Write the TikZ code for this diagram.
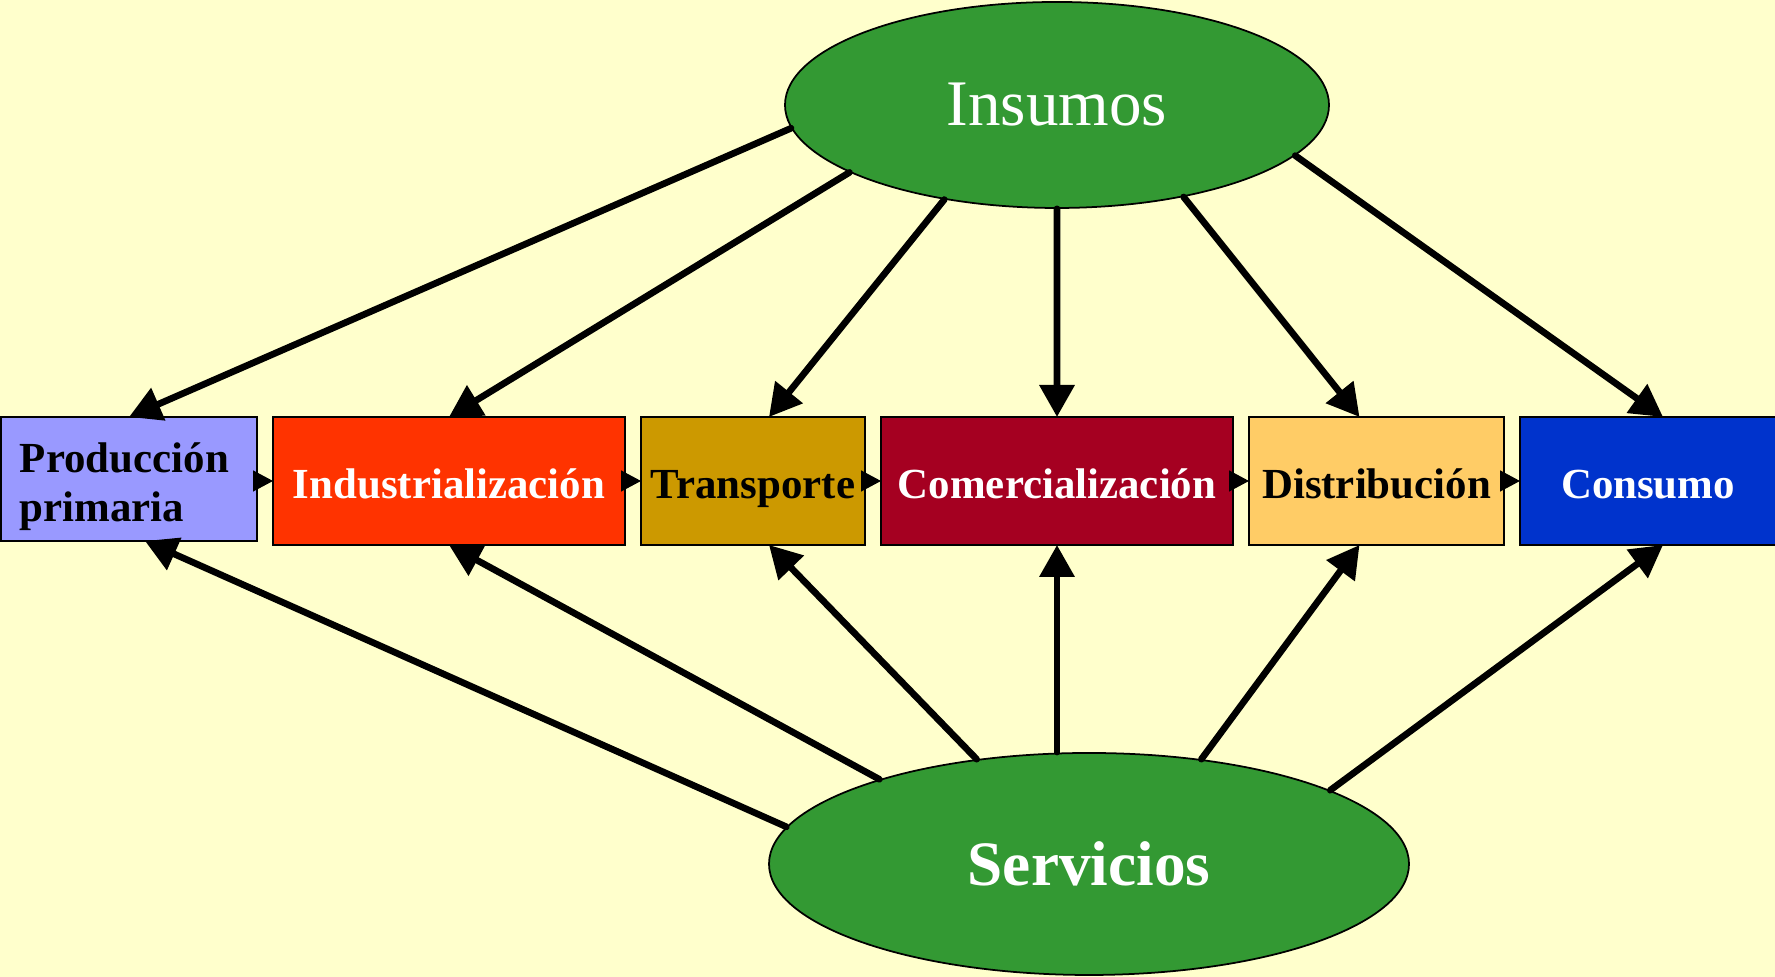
\documentclass[tikz,border=0pt]{standalone}
\usepackage{fontspec}
\setmainfont{Liberation Serif}
\usepackage{tikz}
\usetikzlibrary{arrows.meta, positioning, calc, shapes.geometric}
\definecolor{fondo}{RGB}{255,255,204}
\definecolor{lila}{RGB}{153,153,255}
\definecolor{rojito}{RGB}{255,51,0}
\definecolor{ocre}{RGB}{204,153,0}
\definecolor{granate}{RGB}{165,0,33}
\definecolor{crema}{RGB}{255,204,102}
\definecolor{azulito}{RGB}{0,51,204}
\definecolor{verde}{RGB}{51,153,51}
\tikzset{caja/.style={draw, line width=0.5pt, minimum height=1.28cm, inner sep=0pt, outer sep=0pt, font=\fontsize{12.2}{14}\selectfont\bfseries},
         linea/.style={text height=10.5pt, text depth=0.3pt},
         elipse/.style={ellipse, draw, line width=0.5pt, fill=verde, text=white, inner sep=0pt},
         flecha/.style={line width=1.9pt, line cap=round, -{Triangle[length=0.32cm, width=0.34cm]}},
         flechita/.style={line width=0.4pt, -{Triangle[length=0.2cm, width=0.21cm]}}}

\begin{document}
\begin{tikzpicture}
	\useasboundingbox (0,0) rectangle (17.75,9.77);
	\fill [fondo] (0,0) rectangle (17.75,9.77);

	\node [caja, fill=lila, minimum width=2.56cm, minimum height=1.24cm, text width=2.18cm, align=left, anchor=north west] (prod) at (0.01,5.60)
	      {\rule{0pt}{12.7pt}Producción\\ primaria};
	\node [caja, linea, fill=rojito, text=white, minimum width=3.52cm, right=0.16cm of prod.north east, anchor=north west] (indus) {Industrialización};
	\node [caja, linea, fill=ocre, minimum width=2.24cm, right=0.16cm of indus] (transp) {Transporte};
	\node [caja, linea, fill=granate, text=white, minimum width=3.52cm, right=0.16cm of transp] (comerc) {Comercialización};
	\node [caja, linea, fill=crema, minimum width=2.55cm, right=0.16cm of comerc] (distrib) {Distribución};
	\node [caja, linea, fill=azulito, text=white, minimum width=2.56cm, right=0.16cm of distrib] (consumo) {Consumo};

	\node [elipse, minimum width=5.44cm, minimum height=2.06cm, font=\fontsize{18.5}{22}\selectfont] (ins) at (10.57,8.72) {Insumos};
	\node [elipse, minimum width=6.40cm, minimum height=2.22cm, font=\fontsize{18}{22}\selectfont\bfseries] (serv) at (10.89,1.13) {Servicios};

	% cadena
	\draw [flechita] (prod.east |- indus.west) -- (indus.west);
	\draw [flechita] (indus.east) -- (transp.west);
	\draw [flechita] (transp.east) -- (comerc.west);
	\draw [flechita] (comerc.east) -- (distrib.west);
	\draw [flechita] (distrib.east) -- (consumo.west);

	% insumos
	\draw [flecha] (ins.185) -- (prod.north);
	\draw [flecha] (ins.198) -- (indus.north);
	\draw [flecha] (ins.220) -- ([xshift=0.16cm]transp.north);
	\draw [flecha] (ins.south) -- (comerc.north);
	\draw [flecha] (ins.324) -- ([xshift=-0.17cm]distrib.north);
	\draw [flecha] (ins.348) -- ([xshift=0.15cm]consumo.north);

	% servicios
	\draw [flecha] (serv.173) -- ([xshift=0.16cm]prod.south);
	\draw [flecha] (serv.158) -- (indus.south);
	\draw [flecha] (serv.137) -- ([xshift=0.16cm]transp.south);
	\draw [flecha] (serv.north -| comerc.south) -- (comerc.south);
	\draw [flecha] (serv.43) -- ([xshift=-0.17cm]distrib.south);
	\draw [flecha] (serv.17) -- ([xshift=0.15cm]consumo.south);

\end{tikzpicture}
\end{document}
